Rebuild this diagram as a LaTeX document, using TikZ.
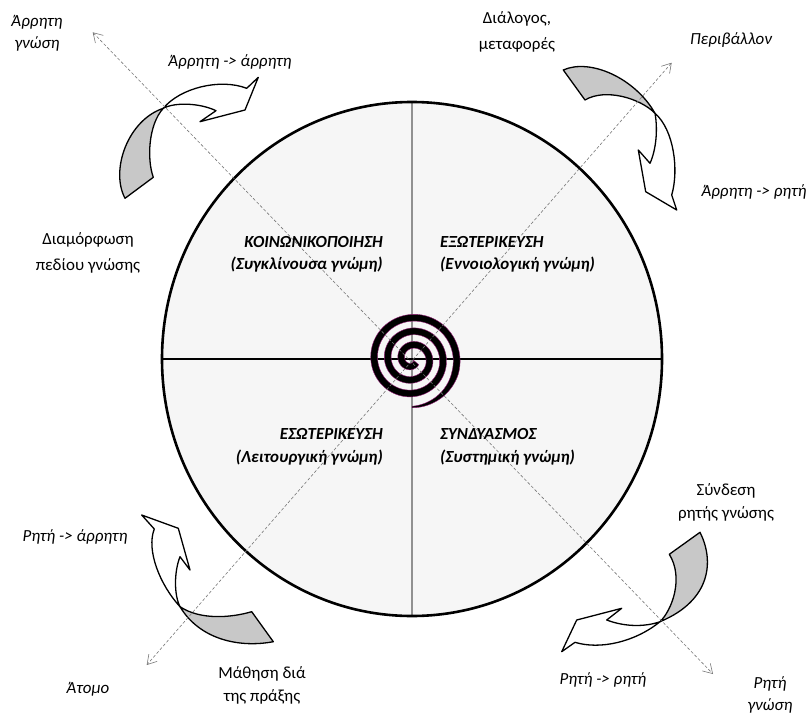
\documentclass[tikz,border=0pt]{standalone}
\usepackage{fontspec}
\setmainfont{Carlito}
\usetikzlibrary{arrows.meta}

\definecolor{discfill}{RGB}{246,246,246}
\definecolor{ribbongray}{RGB}{200,200,200}
\definecolor{axisgray}{RGB}{145,145,145}
\definecolor{diaggray}{RGB}{120,120,120}
\definecolor{spiraledge}{RGB}{150,30,120}

\tikzset{
  lbl/.style={font=\fontsize{17}{22}\selectfont\itshape, align=center, inner sep=0pt},
  lblup/.style={font=\fontsize{17}{23}\selectfont, align=center, inner sep=0pt},
  lblwide/.style={font=\fontsize{17}{26}\selectfont, align=center, inner sep=0pt},
  quad/.style={font=\fontsize{17}{20}\selectfont\bfseries\itshape, inner sep=0pt},
  ribbon/.style={draw=black, line width=1.3bp, line join=round},
  diag/.style={draw=diaggray, line width=0.6bp, dash pattern=on 3bp off 2bp,
    >={Straight Barb[length=9bp,width=11bp]}, <->},
}

\begin{document}
\begin{tikzpicture}[x=1bp,y=-1bp]
\useasboundingbox (0,0) rectangle (807,717);

% knowledge disc
\coordinate (c) at (412,359);
\fill[discfill] (c) ellipse [x radius=250bp, y radius=257bp];

% quadrant axes
\coordinate (vtop) at (412,102);
\coordinate (vbot) at (412,616);
\coordinate (hleft) at (162,359);
\coordinate (hright) at (662,359);
\draw[axisgray, line width=2.6bp] (vtop) -- (vbot);
\draw[black, line width=1.8bp] (hleft) -- (hright);

% SECI spiral, tapering at its outer end
\fill[black, draw=spiraledge, line width=0.4bp]
  plot[domain=40:1170, samples=500, variable=\t]
    ({412+(3.8+0.0378*\t+0.5*max(1.5,6.8-5.3*max(0,\t-1098)/72))*cos(\t)},
     {359+(3.8+0.0378*\t+0.5*max(1.5,6.8-5.3*max(0,\t-1098)/72))*sin(\t)})
  -- plot[domain=1170:40, samples=500, variable=\t]
    ({412+(3.8+0.0378*\t-0.5*max(1.5,6.8-5.3*max(0,\t-1098)/72))*cos(\t)},
     {359+(3.8+0.0378*\t-0.5*max(1.5,6.8-5.3*max(0,\t-1098)/72))*sin(\t)})
  -- cycle;

\draw[black, line width=2.6bp] (c) ellipse [x radius=250bp, y radius=257bp];

% twisted ribbon arrows (gray back face, white front face)
% top left
\filldraw[ribbon, fill=ribbongray] (163.3,108.3) .. controls (128,120) and (110,170) .. (125,198.3)
  -- (153.3,177.3) .. controls (147,160) and (148,125) .. (163.3,108.3) -- cycle;
\filldraw[ribbon, fill=white] (163.3,108.3) .. controls (180,88) and (220,78) .. (246.7,88.3)
  -- (258.3,77.3) -- (245,110) -- (200,121.7) -- (216,110.7)
  .. controls (200,103) and (175,102) .. (163.3,108.3) -- cycle;
% top right
\filldraw[ribbon, fill=ribbongray] (563.3,70) .. controls (590,58) and (635,78) .. (655,113.3)
  .. controls (640,98) and (605,88) .. (585,100) -- cycle;
\filldraw[ribbon, fill=white] (655,113.3) .. controls (658,130) and (656,150) .. (650,163.3)
  -- (638.3,150) -- (645.7,191.7) -- (676.7,210) -- (671.7,195)
  .. controls (679,170) and (674,130) .. (655,113.3) -- cycle;
% bottom left
\filldraw[ribbon, fill=white] (180,606.7) .. controls (160,585) and (146,550) .. (154.3,529)
  -- (141.7,515) -- (178.3,528.3) -- (190,570) -- (180,556.7)
  .. controls (174,572) and (174,595) .. (180,606.7) -- cycle;
\filldraw[ribbon, fill=ribbongray] (180,606.7) .. controls (200,620) and (230,618) .. (251.7,611.7)
  -- (273.3,641.7) .. controls (240,648) and (200,640) .. (180,606.7) -- cycle;
% bottom right
\filldraw[ribbon, fill=ribbongray] (700,532.3) .. controls (714,560) and (712,600) .. (660,621.7)
  .. controls (672,610) and (684,578) .. (669.3,554.3) -- cycle;
\filldraw[ribbon, fill=white] (660,621.7) .. controls (635,642) and (600,650) .. (575,642.3)
  -- (561.7,651.7) -- (576.7,620) -- (621.7,608.3) -- (606.7,620)
  .. controls (625,627) and (645,627) .. (660,621.7) -- cycle;

% tacit/explicit diagonals
\coordinate (dTL) at (92.7,32.3);
\coordinate (dBR) at (713,674);
\coordinate (dTR) at (671.7,62.7);
\coordinate (dBL) at (146.7,665);
\draw[diag] (dTL) -- (dBR);
\draw[diag] (dTR) -- (dBL);

% quadrant titles
\node[quad, anchor=east] (soc) at (383,242) {ΚΟΙΝΩΝΙΚΟΠΟΙΗΣΗ};
\node[quad, anchor=east] (socsub) at (383,265) {(Συγκλίνουσα γνώμη)};
\node[quad, anchor=west] (ext) at (440,242) {ΕΞΩΤΕΡΙΚΕΥΣΗ};
\node[quad, anchor=west] (extsub) at (440,265) {(Εννοιολογική γνώμη)};
\node[quad, anchor=east] (inr) at (383,434) {ΕΣΩΤΕΡΙΚΕΥΣΗ};
\node[quad, anchor=east] (inrsub) at (383,458) {(Λειτουργική γνώμη)};
\node[quad, anchor=west] (comb) at (440,434) {ΣΥΝΔΥΑΣΜΟΣ};
\node[quad, anchor=west] (combsub) at (440,458) {(Συστημική γνώμη)};

% outer labels
\node[lbl] (tacit) at (37,33) {Άρρητη\\γνώση};
\node[lbl] (tt) at (230,62) {Άρρητη -> άρρητη};
\node[lblwide] (field) at (88,253) {Διαμόρφωση\\πεδίου γνώσης};
\node[lblwide] (dialog) at (517,32) {Διάλογος,\\μεταφορές};
\node[lbl] (env) at (731,40) {Περιβάλλον};
\node[lbl] (te) at (754,192) {Άρρητη -> ρητή};
\node[lbl] (et) at (75,537) {Ρητή -> άρρητη};
\node[lbl] (indiv) at (88,689) {Άτομο};
\node[lblup] (learn) at (262,685) {Μάθηση διά\\της πράξης};
\node[lblup] (link) at (726,502) {Σύνδεση\\ρητής γνώσης};
\node[lbl] (ee) at (603,680) {Ρητή -> ρητή};
\node[lbl] (expl) at (770,695) {Ρητή\\γνώση};
\end{tikzpicture}
\end{document}
